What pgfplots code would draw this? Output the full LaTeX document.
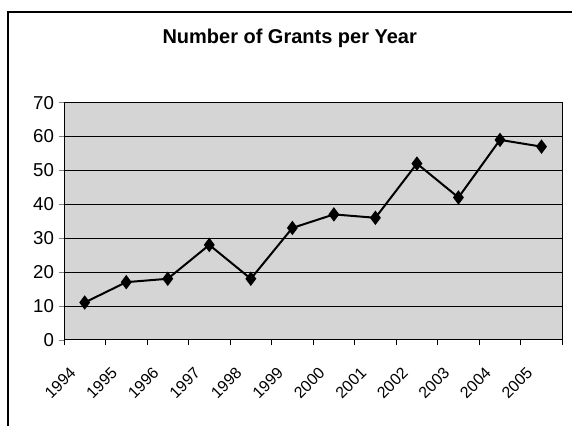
\documentclass[border=0pt]{standalone}
\usepackage{pgfplots}
\pgfplotsset{compat=1.18}
\usepackage{fontspec}
\setmainfont{Liberation Sans}

\begin{document}
\begin{tikzpicture}
\begin{axis}[
    name=ax,
    scale only axis,
    width=374pt, height=178pt,
    xmin=-0.5, xmax=11.5,
    ymin=0, ymax=70,
    ytick={0,10,...,70},
    xtick={0,...,11},
    xticklabels={1994,1995,1996,1997,1998,1999,2000,2001,2002,2003,2004,2005},
    minor xtick={-0.5,0.5,...,11.5},
    major x tick style={draw=none},
    minor x tick style={black, thin},
    minor tick length=4pt,
    major tick length=4pt,
    tick align=outside,
    xtick pos=bottom, ytick pos=left,
    ymajorgrids,
    grid style={black, thin},
    axis line style={black, thin},
    axis background/.style={fill=gray!33},
    y tick label style={font=\fontsize{14}{16}\selectfont},
    x tick label style={font=\fontsize{12}{14}\selectfont,
        anchor=east, xshift=-6.5pt, yshift=-16.5pt, rotate=45},
    /pgf/number format/assume math mode=true,
    title={\bfseries Number of Grants per Year},
    title style={font=\fontsize{15}{17}\selectfont, at={(0.453,1)}, anchor=base, yshift=38.5pt},
    clip=false,
]
\addplot[black, line width=1.5pt, mark=diamond*, mark size=4.2pt, mark options={solid, fill=black}]
    coordinates {
    (0,11) (1,17) (2,18) (3,28) (4,18) (5,33)
    (6,37) (7,36) (8,52) (9,42) (10,59) (11,57)
    };
\end{axis}
\pgfresetboundingbox
\path ([xshift=-48pt,yshift=-64.5pt]ax.south west) rectangle ([xshift=7.5pt,yshift=77pt]ax.north east);
\draw[black, line width=1.1pt]
    ([xshift=-42pt,yshift=-64.5pt]ax.south west) -- ([xshift=-42pt,yshift=68pt]ax.north west)
    -- ([xshift=7.5pt,yshift=68pt]ax.north east);
\end{tikzpicture}
\end{document}
